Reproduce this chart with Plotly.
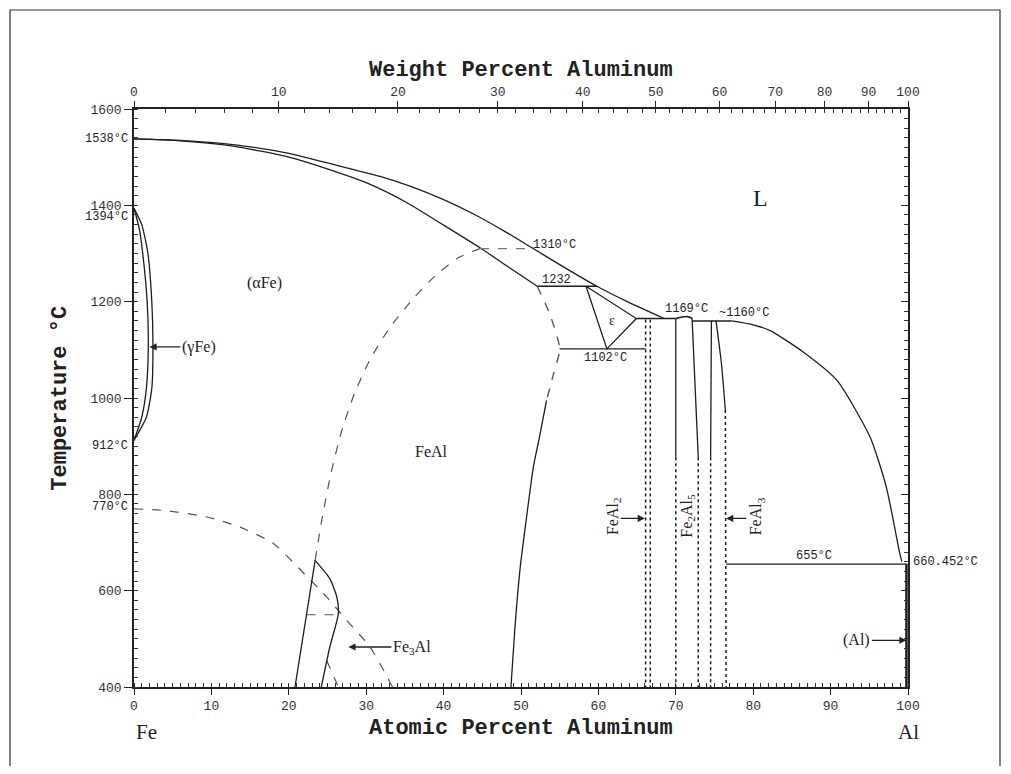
import plotly.graph_objects as go

# ---------------- data (atomic % Al, temperature degC) ----------------
solidus_x = [0, 6, 12.8, 20, 26.2, 30, 35.1, 40, 44.7, 48, 52.1]
solidus_T = [1538, 1534, 1523, 1500, 1469, 1447, 1407, 1359, 1312, 1276, 1232]

liq_fe_x = [0, 6, 12.8, 20, 26.2, 32, 36, 40, 44, 48, 51.2, 55, 59.8, 64, 68.5]
liq_fe_T = [1538, 1535, 1526, 1508, 1483, 1459, 1438, 1412, 1381, 1345, 1314, 1277, 1232, 1198, 1165]

liq_al_x = [77.2, 80, 82.2, 86.5, 90.8, 95.1, 97.2, 98.9, 99.2]
liq_al_T = [1160, 1152, 1140, 1095, 1037, 919, 815, 680, 660.452]

gamma_out_x = [0, 1.0, 1.8, 2.3, 2.45, 2.3, 1.6, 0]
gamma_out_T = [1394, 1360, 1300, 1200, 1110, 1020, 960, 912]
gamma_in_x = [0, 0.7, 1.2, 1.7, 1.85, 1.6, 1.0, 0]
gamma_in_T = [1394, 1350, 1290, 1200, 1110, 1020, 960, 912]

b2_x = [23.4, 24.3, 25.4, 26.8, 28.5, 30.5, 33.0, 36.0, 39.0, 42.0, 44.7]
b2_T = [663, 750, 840, 930, 1010, 1080, 1145, 1205, 1255, 1292, 1310]

curie_x = [0, 4.2, 9.4, 13.7, 18.0, 22.3, 25.0, 27.5, 30.5, 33.4]
curie_T = [770, 766, 753, 732, 698, 630, 585, 538, 483, 400]
curie2_x = [24.9, 26.4]
curie2_T = [455, 400]

fe3al_left_x = [20.8, 23.4]
fe3al_left_T = [400, 663]
fe3al_right_x = [23.4, 25.3, 26.2, 26.4, 25.3, 24.2]
fe3al_right_T = [663, 625, 587, 552, 483, 400]
fe3al_tie_x = [22.3, 26.4]
fe3al_tie_T = [550, 550]

feal_dash_x = [52.1, 53.7, 55.0, 54.2, 53.3]
feal_dash_T = [1232, 1175, 1102, 1050, 995]
feal_solid_x = [53.3, 52.4, 51.6, 50.7, 49.9, 49.2, 48.7]
feal_solid_T = [995, 920, 857, 750, 649, 520, 400]

eps_x = [58.4, 61.1, 64.9, 58.4]
eps_T = [1232, 1102, 1165, 1232]

tie1310_x = [44.7, 51.2]
tie1310_T = [1310, 1310]

# invariant horizontals: temperature, x start, x end
iso_T = [1232, 1102, 1165, 1160, 655]
iso_x0 = [52.1, 55.0, 64.9, 72.1, 76.5]
iso_x1 = [59.8, 66.1, 70.0, 77.2, 99.9]

fe2al5_dome_x = [70.0, 70.8, 71.5, 72.1]
fe2al5_dome_T = [1165, 1168, 1169, 1166]

# intermetallic boundaries: solid part then dotted part
comp_top_x = [70.0, 72.1, 74.6]
comp_top_T = [1165, 1166, 1160]
comp_mid_x = [70.0, 72.9, 74.5]
comp_mid_T = [877, 877, 877]
comp_bot_x = [70.0, 72.9, 74.5]

feal3_r_x = [75.2, 75.9, 76.4]
feal3_r_T = [1160, 1071, 975]
feal3_r_bot_x = 76.5

feal2_x = [66.1, 66.7]
feal2_top_T = 1163

al_solvus_x = [99.8, 99.8]
al_solvus_T = [655, 400]

wt_labels = [0, 10, 20, 30, 40, 50, 60, 70, 80, 90, 100]
wt_minor = list(range(0, 101, 2))

M_AL, M_FE = 26.98, 55.845


def wt_to_at(w):
    a = w / M_AL
    f = (100 - w) / M_FE
    return 100 * a / (a + f)


LC = "#1e1e1e"
DC = "#555555"

fig = go.Figure()


def add(xs, ys, dash="solid", width=1.3, color=LC):
    fig.add_trace(go.Scatter(x=xs, y=ys, mode="lines",
                             line=dict(color=color, width=width, dash=dash, shape="spline", smoothing=0.6),
                             showlegend=False, hoverinfo="skip"))


def addl(xs, ys, dash="solid", width=1.3, color=LC):
    fig.add_trace(go.Scatter(x=xs, y=ys, mode="lines",
                             line=dict(color=color, width=width, dash=dash),
                             showlegend=False, hoverinfo="skip"))


add(solidus_x, solidus_T)
add(liq_fe_x, liq_fe_T)
add(liq_al_x, liq_al_T)
add(gamma_out_x, gamma_out_T)
add(gamma_in_x, gamma_in_T)
add(b2_x, b2_T, dash="dash", color=DC, width=1.2)
add(curie_x, curie_T, dash="dash", color=DC, width=1.2)
addl(curie2_x, curie2_T, dash="dash", color=DC, width=1.2)
addl(fe3al_left_x, fe3al_left_T)
add(fe3al_right_x, fe3al_right_T)
addl(fe3al_tie_x, fe3al_tie_T, dash="dash", color=DC, width=1.2)
add(feal_dash_x, feal_dash_T, dash="dash", color=DC, width=1.4)
add(feal_solid_x, feal_solid_T)
addl(eps_x, eps_T)
addl(tie1310_x, tie1310_T, dash="dash", color="#777777", width=1.2)
for T, a, b in zip(iso_T, iso_x0, iso_x1):
    addl([a, b], [T, T], width=1.6 if T in (1165, 1160) else 1.3)
add(fe2al5_dome_x, fe2al5_dome_T, width=1.6)
for xt, tt, xm, tm, xb in zip(comp_top_x, comp_top_T, comp_mid_x, comp_mid_T, comp_bot_x):
    addl([xt, xm], [tt, tm])
    addl([xm, xb], [tm, 400], dash="dot", width=1.5)
add(feal3_r_x, feal3_r_T)
addl([feal3_r_x[-1], feal3_r_bot_x], [feal3_r_T[-1], 400], dash="dot", width=1.5)
for xv in feal2_x:
    addl([xv, xv], [feal2_top_T, 400], dash="dot", width=1.5)
addl(al_solvus_x, al_solvus_T, width=2.5)

# invisible traces to anchor secondary axes
fig.add_trace(go.Scatter(x=[0, 100], y=[400, 400], xaxis="x2", mode="lines",
                         line=dict(width=0), showlegend=False, hoverinfo="skip"))
fig.add_trace(go.Scatter(x=[0, 100], y=[400, 400], xaxis="x3", mode="lines",
                         line=dict(width=0), showlegend=False, hoverinfo="skip"))
fig.add_trace(go.Scatter(x=[0, 100], y=[400, 400], yaxis="y2", mode="lines",
                         line=dict(width=0), showlegend=False, hoverinfo="skip"))

TICKFONT = dict(family="Liberation Mono", size=13, color="#333333")
AX = dict(range=[0, 100], showgrid=False, zeroline=False, showline=True,
          linecolor="#222222", linewidth=1.5)

# page body has an 8px margin: figure is placed at (8, 8)
fig.update_layout(
    width=995, height=758,
    margin=dict(l=126, r=95, t=101, b=79),
    paper_bgcolor="white", plot_bgcolor="white",
    xaxis=dict(**AX, tickmode="linear", tick0=0, dtick=10, ticks="outside", ticklen=6,
               tickcolor="#222222", tickfont=TICKFONT,
               minor=dict(ticks="inside", dtick=1, ticklen=4, tickcolor="#333333")),
    xaxis2=dict(**AX, overlaying="x", side="top", anchor="y",
                tickmode="array", tickvals=[wt_to_at(w) for w in wt_labels],
                ticktext=[str(w) for w in wt_labels], ticks="outside", ticklen=6,
                tickcolor="#222222", tickfont=TICKFONT),
    xaxis3=dict(**AX, overlaying="x", side="top", anchor="y",
                tickmode="array", tickvals=[wt_to_at(w) for w in wt_minor],
                ticks="inside", ticklen=4, tickcolor="#333333", showticklabels=False),
    yaxis=dict(range=[400, 1600], showgrid=False, zeroline=False, showline=True,
               linecolor="#222222", linewidth=1.5, tickmode="linear", tick0=400, dtick=200,
               ticks="outside", ticklen=8, tickcolor="#222222", tickfont=TICKFONT,
               minor=dict(ticks="inside", dtick=20, ticklen=4, tickcolor="#333333")),
    yaxis2=dict(range=[400, 1600], overlaying="y", side="right", anchor="x",
                showgrid=False, zeroline=False, showline=True, linecolor="#222222",
                linewidth=1.5, tickmode="linear", tick0=400, dtick=200, ticks="inside",
                ticklen=7, tickcolor="#222222", showticklabels=False,
                minor=dict(ticks="inside", dtick=20, ticklen=4, tickcolor="#333333")),
)

SERIF = "Liberation Serif"
ann = []


def txt(x, y, s, size=13, family="Liberation Mono", xanchor="center", yanchor="middle",
        xref="x", yref="y", angle=0, xshift=0, yshift=0, color="#222222"):
    ann.append(dict(x=x, y=y, text=s, xref=xref, yref=yref, showarrow=False,
                    xanchor=xanchor, yanchor=yanchor, textangle=angle,
                    xshift=xshift, yshift=yshift,
                    font=dict(family=family, size=size, color=color)))


def arrow(x, y, ax, ay, s="", size=16):
    ann.append(dict(x=x, y=y, ax=ax, ay=ay, xref="x", yref="y", axref="x", ayref="y",
                    text=s, showarrow=True, arrowhead=2, arrowsize=1.1, arrowwidth=1.3,
                    arrowcolor="#222222",
                    font=dict(family=SERIF, size=size, color="#222222")))


# axis titles
txt(0.5, 1.0, "<b>Weight Percent Aluminum</b>", size=22, xref="paper", yref="paper", yshift=39)
txt(0.5, 0.0, "<b>Atomic Percent Aluminum</b>", size=22, xref="paper", yref="paper", yshift=-41)
txt(-0.096, 0.5, "<b>Temperature °C</b>", size=22, xref="paper", yref="paper", angle=-90)
txt(0.016, 0.0, "Fe", size=21, family=SERIF, xref="paper", yref="paper", yshift=-45)
txt(1.0, 0.0, "Al", size=21, family=SERIF, xref="paper", yref="paper", yshift=-45)

# temperature labels
txt(0, 1538, "1538°C", size=12, xanchor="right", xshift=-4)
txt(0, 1394, "1394°C", size=12, xanchor="right", xshift=-4, yshift=-9)
txt(0, 912, "912°C", size=12, xanchor="right", xshift=-4, yshift=-6)
txt(0, 770, "770°C", size=12, xanchor="right", xshift=-4, yshift=2)
txt(51.3, 1318, "1310°C", size=12, xanchor="left")
txt(52.4, 1246, "1232", size=12, xanchor="left")
txt(60.9, 1084, "1102°C", size=12)
txt(71.4, 1185, "1169°C", size=12)
txt(78.8, 1176, "~1160°C", size=12)
txt(87.8, 672, "655°C", size=12)
txt(100, 660.452, "660.452°C", size=12, xanchor="left", xshift=3)

# phase labels
txt(80.9, 1416, "L", size=24, family=SERIF)
txt(16.9, 1238, "(αFe)", size=16, family=SERIF)
txt(38.5, 889, "FeAl", size=16, family=SERIF)
txt(61.7, 1160, "ε", size=14, family=SERIF)
txt(61.9, 755, "FeAl<sub>2</sub>", size=16, family=SERIF, angle=-90)
txt(71.4, 755, "Fe<sub>2</sub>Al<sub>5</sub>", size=16, family=SERIF, angle=-90)
txt(80.4, 755, "FeAl<sub>3</sub>", size=16, family=SERIF, angle=-90)
arrow(2.0, 1106, 8.4, 1106, "(γFe)")
arrow(27.7, 483, 35.9, 483, "Fe<sub>3</sub>Al")
arrow(99.8, 497, 93.4, 497, "(Al)")
arrow(66.0, 750, 62.7, 750)
arrow(76.5, 750, 79.3, 750)

fig.update_layout(annotations=ann)

# outer frame of the picture
fig.add_shape(type="rect", xref="paper", yref="paper",
              x0=(2 - 126) / 774, x1=(992 - 126) / 774,
              y0=(679 - 800) / 578, y1=(679 - 2) / 578,
              line=dict(color="#333333", width=1.2), layer="below")

fig.write_html("out.html")
